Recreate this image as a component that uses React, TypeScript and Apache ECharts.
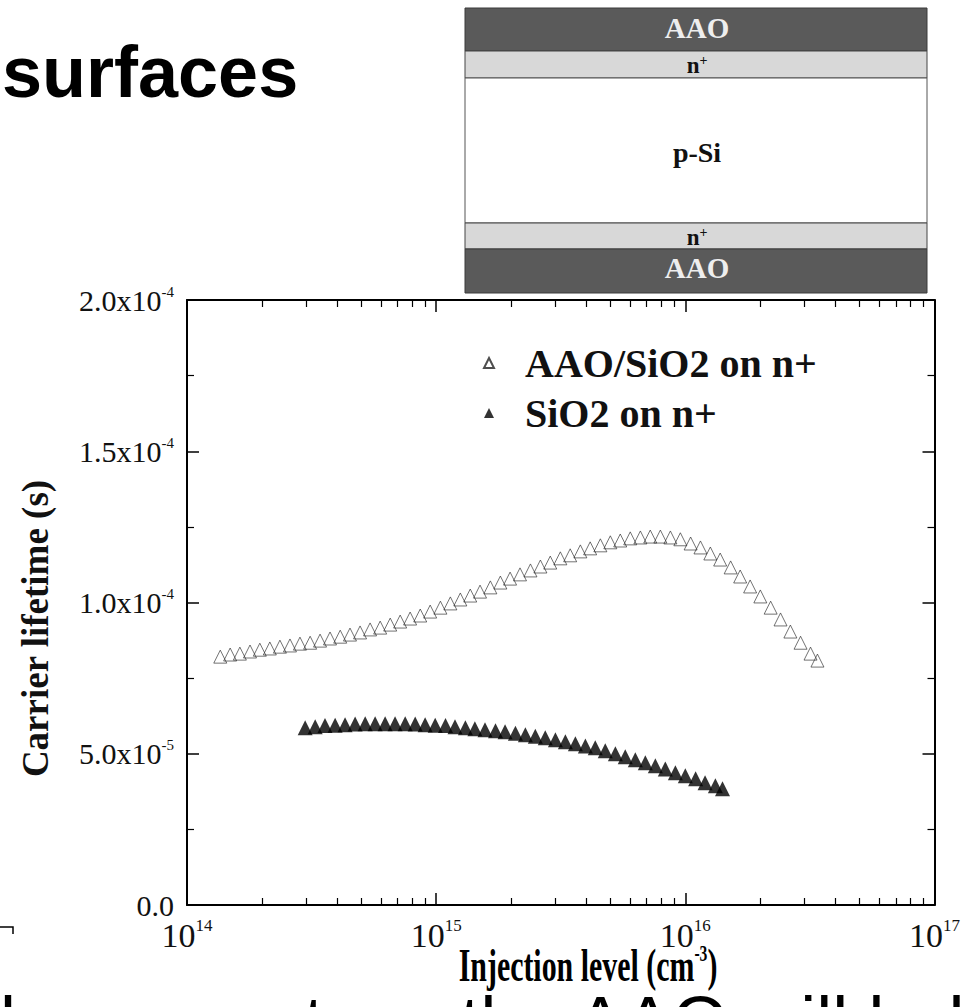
import React, { useEffect, useRef } from 'react';
import * as echarts from 'echarts';

const SERIF = '"Liberation Serif", "Times New Roman", serif';
const SANS = '"Liberation Sans", Arial, sans-serif';

const seriesNames = ['AAO/SiO2 on n+', 'SiO2 on n+'];

// AAO/SiO2 on n+ : injection level (cm^-3), lifetime (s)
const aaoX = [
  1.36e14, 1.49e14, 1.63e14, 1.79e14, 1.96e14, 2.15e14, 2.36e14, 2.59e14, 2.84e14, 3.12e14,
  3.42e14, 3.75e14, 4.12e14, 4.51e14, 4.95e14, 5.43e14, 5.96e14, 6.54e14, 7.17e14, 7.86e14,
  8.63e14, 9.46e14, 1.04e15, 1.14e15, 1.25e15, 1.37e15, 1.5e15, 1.65e15, 1.81e15, 1.98e15,
  2.17e15, 2.39e15, 2.62e15, 2.87e15, 3.15e15, 3.45e15, 3.79e15, 4.15e15, 4.56e15, 5.0e15,
  5.48e15, 6.01e15, 6.6e15, 7.23e15, 7.94e15, 8.71e15, 9.55e15, 1.05e16, 1.15e16, 1.26e16,
  1.38e16, 1.52e16, 1.66e16, 1.82e16, 2.0e16, 2.2e16, 2.41e16, 2.64e16, 2.9e16, 3.18e16, 3.39e16,
];
const aaoY = [
  8.21e-5, 8.28e-5, 8.31e-5, 8.38e-5, 8.44e-5, 8.48e-5, 8.54e-5, 8.58e-5, 8.64e-5, 8.67e-5,
  8.74e-5, 8.81e-5, 8.87e-5, 8.94e-5, 9.01e-5, 9.11e-5, 9.17e-5, 9.27e-5, 9.37e-5, 9.47e-5,
  9.57e-5, 9.7e-5, 9.83e-5, 9.97e-5, 10.1e-5, 10.23e-5, 10.36e-5, 10.5e-5, 10.66e-5, 10.79e-5,
  10.93e-5, 11.06e-5, 11.19e-5, 11.32e-5, 11.46e-5, 11.56e-5, 11.69e-5, 11.79e-5, 11.89e-5, 11.99e-5,
  12.05e-5, 12.12e-5, 12.15e-5, 12.18e-5, 12.18e-5, 12.15e-5, 12.09e-5, 11.95e-5, 11.82e-5, 11.62e-5,
  11.42e-5, 11.16e-5, 10.86e-5, 10.53e-5, 10.2e-5, 9.83e-5, 9.44e-5, 9.04e-5, 8.67e-5, 8.31e-5, 8.08e-5,
];

// SiO2 on n+
const sioX = [
  2.98e14, 3.27e14, 3.58e14, 3.93e14, 4.31e14, 4.73e14, 5.19e14, 5.69e14, 6.24e14, 6.84e14,
  7.51e14, 8.24e14, 9.03e14, 9.91e14, 1.09e15, 1.19e15, 1.31e15, 1.43e15, 1.57e15, 1.73e15,
  1.89e15, 2.08e15, 2.28e15, 2.5e15, 2.74e15, 3.01e15, 3.3e15, 3.62e15, 3.97e15, 4.35e15,
  4.77e15, 5.24e15, 5.74e15, 6.3e15, 6.91e15, 7.58e15, 8.31e15, 9.12e15, 1.0e16, 1.1e16,
  1.2e16, 1.32e16, 1.41e16,
];
const sioY = [
  5.86e-5, 5.89e-5, 5.93e-5, 5.94e-5, 5.96e-5, 5.98e-5, 5.99e-5, 5.99e-5, 5.99e-5, 5.99e-5,
  5.99e-5, 5.98e-5, 5.96e-5, 5.94e-5, 5.93e-5, 5.89e-5, 5.86e-5, 5.83e-5, 5.79e-5, 5.76e-5,
  5.73e-5, 5.68e-5, 5.63e-5, 5.58e-5, 5.53e-5, 5.46e-5, 5.4e-5, 5.33e-5, 5.26e-5, 5.2e-5,
  5.1e-5, 5.0e-5, 4.9e-5, 4.8e-5, 4.7e-5, 4.6e-5, 4.5e-5, 4.37e-5, 4.27e-5, 4.17e-5,
  4.04e-5, 3.94e-5, 3.84e-5,
];

// tick labels
const xTickExponents = ['14', '15', '16', '17'];
const yTickMantissa = ['0.0', '5.0x10', '1.0x10', '1.5x10', '2.0x10'];
const yTickExponent = ['', '-5', '-4', '-4', '-4'];
const xMinorTickValues = [
  2e14, 3e14, 4e14, 5e14, 6e14, 7e14, 8e14, 9e14,
  2e15, 3e15, 4e15, 5e15, 6e15, 7e15, 8e15, 9e15,
  2e16, 3e16, 4e16, 5e16, 6e16, 7e16, 8e16, 9e16,
];

export default function App() {
  const ref = useRef<HTMLDivElement>(null);
  useEffect(() => {
    const chart = echarts.init(ref.current!, null, { renderer: 'svg' });
    const axisLine = { show: true, lineStyle: { color: '#000', width: 2 } };
    const majorTick = { show: true, inside: true, length: 12, lineStyle: { color: '#000', width: 1.5 } };
    const minorTickStyle = { color: '#000', width: 1.2 };
    const minorExp = xMinorTickValues.map((v) => Math.log10(v));

    const option: any = {
      animation: false,
      backgroundColor: '#fff',
      grid: { left: 187, right: 28, top: 300, bottom: 102 },
      legend: {
        data: seriesNames,
        orient: 'vertical',
        left: 478,
        top: 338,
        itemWidth: 10,
        itemHeight: 10,
        itemGap: 10,
        textStyle: {
          fontFamily: SERIF,
          fontSize: 40,
          fontWeight: 'bold',
          color: '#111',
          lineHeight: 40,
          padding: [0, 0, 0, 26],
        },
      },
      xAxis: [
        {
          type: 'log',
          min: 1e14,
          max: 1e17,
          position: 'bottom',
          axisLine,
          axisTick: majorTick,
          splitLine: { show: false },
          axisLabel: {
            margin: 12,
            formatter: (_v: number, i: number) => `{b|10}{s|${xTickExponents[i]}}`,
            rich: {
              b: { fontFamily: SERIF, fontSize: 34, color: '#111', lineHeight: 36 },
              s: { fontFamily: SERIF, fontSize: 17, color: '#111', verticalAlign: 'top', lineHeight: 17 },
            },
          },
        },
        {
          type: 'value',
          min: 14,
          max: 17,
          position: 'bottom',
          axisLine: { show: false },
          axisTick: { show: true, inside: true, length: 7, customValues: minorExp, lineStyle: minorTickStyle },
          axisLabel: { show: false },
          splitLine: { show: false },
        },
        {
          type: 'log',
          min: 1e14,
          max: 1e17,
          position: 'top',
          axisLine,
          axisTick: majorTick,
          axisLabel: { show: false },
          splitLine: { show: false },
        },
        {
          type: 'value',
          min: 14,
          max: 17,
          position: 'top',
          axisLine: { show: false },
          axisTick: { show: true, inside: true, length: 7, customValues: minorExp, lineStyle: minorTickStyle },
          axisLabel: { show: false },
          splitLine: { show: false },
        },
      ],
      yAxis: [
        {
          type: 'value',
          min: 0,
          max: 2e-4,
          interval: 5e-5,
          position: 'left',
          axisLine,
          axisTick: majorTick,
          minorTick: { show: true, splitNumber: 2, length: 7, lineStyle: minorTickStyle },
          splitLine: { show: false },
          minorSplitLine: { show: false },
          name: 'Carrier lifetime (s)',
          nameLocation: 'middle',
          nameGap: 133,
          nameMoveOverlap: false,
          nameTextStyle: {
            fontFamily: SERIF,
            fontSize: 37,
            fontWeight: 'bold',
            color: '#111',
            padding: [0, 52, 0, 0],
          },
          axisLabel: {
            margin: 13,
            formatter: (_v: number, i: number) =>
              yTickExponent[i] ? `{b|${yTickMantissa[i]}}{s|${yTickExponent[i]}}` : `{b|${yTickMantissa[i]}}`,
            rich: {
              b: { fontFamily: SERIF, fontSize: 30, color: '#111', lineHeight: 32 },
              s: { fontFamily: SERIF, fontSize: 15, color: '#111', verticalAlign: 'top', lineHeight: 15 },
            },
          },
        },
        {
          type: 'value',
          min: 0,
          max: 2e-4,
          interval: 5e-5,
          position: 'right',
          axisLine,
          axisTick: majorTick,
          minorTick: { show: true, splitNumber: 2, length: 7, lineStyle: minorTickStyle },
          splitLine: { show: false },
          minorSplitLine: { show: false },
          axisLabel: { show: false },
        },
      ],
      series: [
        {
          name: seriesNames[0],
          type: 'scatter',
          xAxisIndex: 0,
          yAxisIndex: 0,
          symbol: 'triangle',
          symbolSize: 13,
          itemStyle: { color: 'rgba(255,255,255,0)', borderColor: '#222', borderWidth: 0.8 },
          data: aaoX.map((x, i) => [x, aaoY[i]]),
        },
        {
          name: seriesNames[1],
          type: 'scatter',
          xAxisIndex: 0,
          yAxisIndex: 0,
          symbol: 'triangle',
          symbolSize: 15,
          itemStyle: { color: '#000' },
          data: sioX.map((x, i) => [x, sioY[i]]),
        },
      ],
      graphic: {
        elements: [
          {
            type: 'text',
            x: 2,
            y: 72,
            style: {
              text: 'surfaces',
              fontFamily: SANS,
              fontSize: 72,
              fontWeight: 'bold',
              fill: '#000',
              align: 'left',
              verticalAlign: 'middle',
            },
          },
          // schematic
          { type: 'rect', shape: { x: 465, y: 8, width: 462, height: 43 }, style: { fill: '#5a5a5a', stroke: '#3a3a3a', lineWidth: 1 } },
          { type: 'rect', shape: { x: 465, y: 51, width: 462, height: 27 }, style: { fill: '#d8d8d8', stroke: '#444', lineWidth: 1 } },
          { type: 'rect', shape: { x: 465, y: 78, width: 462, height: 145 }, style: { fill: '#fff', stroke: '#555', lineWidth: 1 } },
          { type: 'rect', shape: { x: 465, y: 223, width: 462, height: 26 }, style: { fill: '#d8d8d8', stroke: '#444', lineWidth: 1 } },
          { type: 'rect', shape: { x: 465, y: 249, width: 462, height: 44 }, style: { fill: '#5a5a5a', stroke: '#3a3a3a', lineWidth: 1 } },
          {
            type: 'text', x: 697, y: 28,
            style: { text: 'AAO', fontFamily: SERIF, fontSize: 29, fontWeight: 'bold', fill: '#eeeeee', align: 'center', verticalAlign: 'middle' },
          },
          {
            type: 'text', x: 697, y: 65,
            style: {
              text: '{b|n}{s|+}', align: 'center', verticalAlign: 'middle',
              rich: {
                b: { fontFamily: SERIF, fontSize: 23, fontWeight: 'bold', fill: '#111', lineHeight: 24 },
                s: { fontFamily: SERIF, fontSize: 14, fontWeight: 'bold', fill: '#111', verticalAlign: 'top', lineHeight: 14 },
              },
            },
          },
          {
            type: 'text', x: 697, y: 152,
            style: { text: 'p-Si', fontFamily: SERIF, fontSize: 28, fontWeight: 'bold', fill: '#111', align: 'center', verticalAlign: 'middle' },
          },
          {
            type: 'text', x: 697, y: 237,
            style: {
              text: '{b|n}{s|+}', align: 'center', verticalAlign: 'middle',
              rich: {
                b: { fontFamily: SERIF, fontSize: 23, fontWeight: 'bold', fill: '#111', lineHeight: 24 },
                s: { fontFamily: SERIF, fontSize: 14, fontWeight: 'bold', fill: '#111', verticalAlign: 'top', lineHeight: 14 },
              },
            },
          },
          {
            type: 'text', x: 697, y: 268,
            style: { text: 'AAO', fontFamily: SERIF, fontSize: 29, fontWeight: 'bold', fill: '#eeeeee', align: 'center', verticalAlign: 'middle' },
          },
          // x axis title (condensed)
          {
            type: 'text', x: 588, y: 965, scaleX: 0.65,
            style: {
              text: '{b|Injection level (cm}{s|-3}{b|)}', align: 'center', verticalAlign: 'middle',
              rich: {
                b: { fontFamily: SERIF, fontSize: 46, fontWeight: 'bold', fill: '#000', lineHeight: 48 },
                s: { fontFamily: SERIF, fontSize: 24, fontWeight: 'bold', fill: '#000', verticalAlign: 'top', lineHeight: 24 },
              },
            },
          },
          // small bracket at left
          { type: 'polyline', shape: { points: [[0, 927], [13, 927], [13, 934]] }, style: { stroke: '#000', lineWidth: 1.5, fill: 'none' } },
          // body text of the slide, cut off by the bottom edge
          {
            type: 'text', x: 0, y: 986,
            style: {
              text: 'lower cost, so the AAO will help D',
              fontFamily: SANS, fontSize: 72, fill: '#000', align: 'left', verticalAlign: 'top',
            },
          },
        ],
      },
    };
    chart.setOption(option);
    return () => chart.dispose();
  }, []);
  return <div ref={ref} style={{ position: 'absolute', left: 0, top: 0, width: 963, height: 1007 }} />;
}
